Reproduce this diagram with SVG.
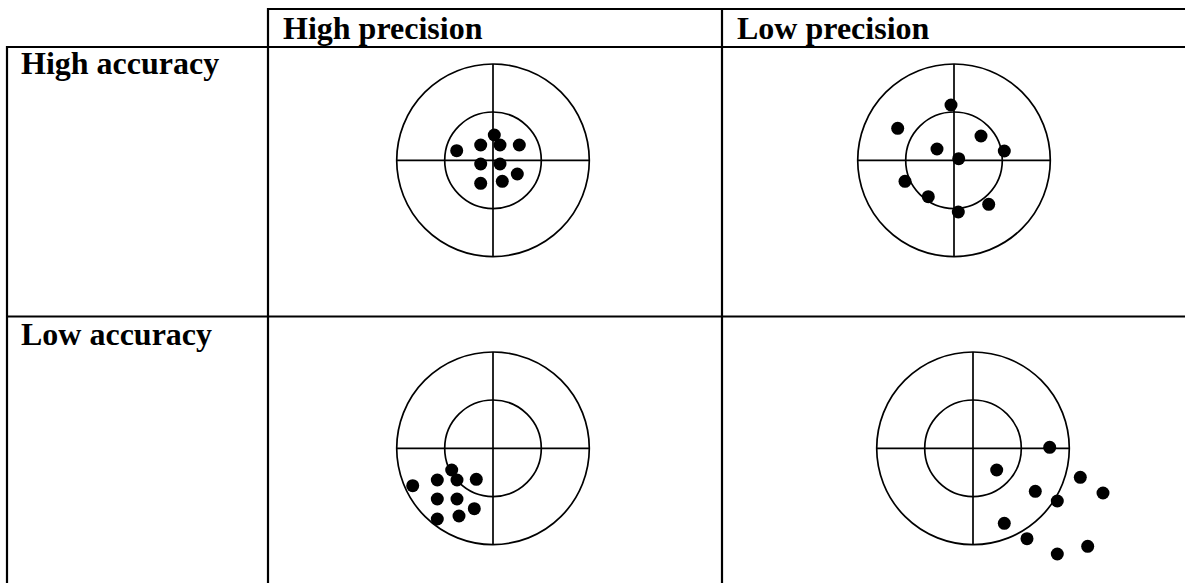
<svg xmlns="http://www.w3.org/2000/svg" width="1185" height="583" viewBox="0 0 1185 583">
<style>
.grid{stroke:#000;stroke-width:2.2;fill:none}
.ring{stroke:#000;stroke-width:1.7;fill:none}
.cross{stroke:#000;stroke-width:1.7}
.dot{fill:#000}
.lbl{font-family:"Liberation Serif","Times New Roman",serif;font-weight:bold;font-size:32px;fill:#000}
</style>
<rect width="1185" height="583" fill="#fff"/>
<g id="table" class="grid">
<line x1="267" y1="9" x2="1185" y2="9"/>
<line x1="6" y1="47" x2="1185" y2="47"/>
<line x1="6" y1="316.5" x2="1185" y2="316.5"/>
<line x1="7" y1="46" x2="7" y2="583"/>
<line x1="268" y1="8" x2="268" y2="583"/>
<line x1="722" y1="8" x2="722" y2="583"/>
</g>
<g id="labels">
<text class="lbl" x="283" y="39">High precision</text>
<text class="lbl" x="737" y="39">Low precision</text>
<text class="lbl" x="21" y="74">High accuracy</text>
<text class="lbl" x="21" y="345">Low accuracy</text>
</g>
<defs>
<g id="target">
<circle class="ring" cx="0" cy="0" r="96.3"/>
<circle class="ring" cx="0" cy="0" r="48.3"/>
<line class="cross" x1="-96.3" y1="0" x2="96.3" y2="0"/>
<line class="cross" x1="0" y1="-96.3" x2="0" y2="96.3"/>
</g>
</defs>
<g id="target-high-acc-high-prec">
<use href="#target" x="493" y="160.3"/>
<g class="dot">
<circle cx="494.3" cy="135" r="6.5"/>
<circle cx="480.7" cy="145" r="6.5"/>
<circle cx="500" cy="145" r="6.5"/>
<circle cx="519.3" cy="145" r="6.5"/>
<circle cx="456.7" cy="150.7" r="6.5"/>
<circle cx="480.7" cy="164" r="6.5"/>
<circle cx="500" cy="164" r="6.5"/>
<circle cx="517.3" cy="174" r="6.5"/>
<circle cx="480.7" cy="183.3" r="6.5"/>
<circle cx="502.3" cy="181.3" r="6.5"/>
</g>
</g>
<g id="target-high-acc-low-prec">
<use href="#target" x="954" y="160.3"/>
<g class="dot">
<circle cx="951" cy="105" r="6.5"/>
<circle cx="897.7" cy="128.3" r="6.5"/>
<circle cx="981" cy="136" r="6.5"/>
<circle cx="937" cy="149" r="6.5"/>
<circle cx="1004.3" cy="151" r="6.5"/>
<circle cx="958.7" cy="158.7" r="6.5"/>
<circle cx="905" cy="181.3" r="6.5"/>
<circle cx="928.3" cy="196.7" r="6.5"/>
<circle cx="958.3" cy="212" r="6.5"/>
<circle cx="988.7" cy="204.3" r="6.5"/>
</g>
</g>
<g id="target-low-acc-high-prec">
<use href="#target" x="493" y="448.3"/>
<g class="dot">
<circle cx="451.7" cy="470" r="6.5"/>
<circle cx="412.7" cy="485.7" r="6.5"/>
<circle cx="437.3" cy="480" r="6.5"/>
<circle cx="457" cy="480" r="6.5"/>
<circle cx="476.3" cy="479.3" r="6.5"/>
<circle cx="437.3" cy="499" r="6.5"/>
<circle cx="457" cy="499" r="6.5"/>
<circle cx="474.3" cy="508.7" r="6.5"/>
<circle cx="437.3" cy="519" r="6.5"/>
<circle cx="459" cy="516" r="6.5"/>
</g>
</g>
<g id="target-low-acc-low-prec">
<use href="#target" x="973" y="448.3"/>
<g class="dot">
<circle cx="1049.7" cy="447.3" r="6.5"/>
<circle cx="996.7" cy="470" r="6.5"/>
<circle cx="1080.3" cy="477.3" r="6.5"/>
<circle cx="1035.3" cy="491.3" r="6.5"/>
<circle cx="1103" cy="493" r="6.5"/>
<circle cx="1057.3" cy="501" r="6.5"/>
<circle cx="1004.3" cy="523.3" r="6.5"/>
<circle cx="1027" cy="538.7" r="6.5"/>
<circle cx="1087.7" cy="546.3" r="6.5"/>
<circle cx="1057.3" cy="554" r="6.5"/>
</g>
</g>
</svg>
